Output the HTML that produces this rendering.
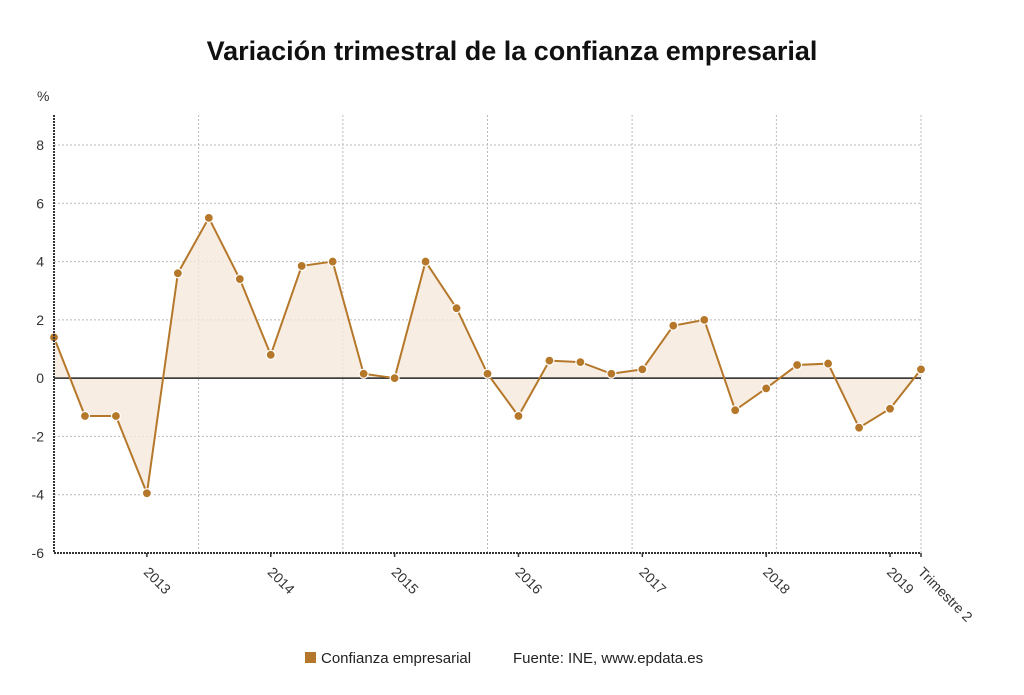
<!DOCTYPE html>
<html><head><meta charset="utf-8"><style>
body{margin:0;background:#fff;width:1024px;height:690px;overflow:hidden;font-family:"Liberation Sans",sans-serif}
</style></head><body>
<svg id="c" width="1024" height="690" style="font-family:'Liberation Sans',sans-serif">
<text x="512" y="60" text-anchor="middle" font-size="27" font-weight="bold" fill="#111">Variación trimestral de la confianza empresarial</text>
<text x="37" y="101" font-size="14" fill="#333">%</text>
<g id="grid"></g><g id="series"></g><g id="axes"></g>
<g>
<rect x="305" y="652" width="11" height="11" fill="#b5782a"/>
<text x="321" y="663" font-size="15" fill="#222">Confianza empresarial</text>
<text x="513" y="663" font-size="15" fill="#222">Fuente: INE, www.epdata.es</text>
</g>
</svg>
<script>
const values=[1.4,-1.3,-1.3,-3.95,3.6,5.5,3.4,0.8,3.85,4.0,0.15,0.0,4.0,2.4,0.15,-1.3,0.6,0.55,0.15,0.3,1.8,2.0,-1.1,-0.35,0.45,0.5,-1.7,-1.05,0.3];
const yTicks=[-6,-4,-2,0,2,4,6,8];
const yearLabels=["2013","2014","2015","2016","2017","2018","2019"];
const yearIndex=[3,7,11,15,19,23,27];
const vGridIndex=[4.67,9.33,14,18.67,23.33,28];
const NS="http://www.w3.org/2000/svg";
const x0=54,x1=921,yTop=145,yBot=553;
const xs=i=>x0+(x1-x0)*i/(values.length-1);
const ys=v=>yBot-(v-(-6))/(14)*(yBot-yTop);
function mk(t,a,p){const e=document.createElementNS(NS,t);for(const k in a)e.setAttribute(k,a[k]);p.appendChild(e);return e;}
const grid=document.getElementById('grid'),ser=document.getElementById('series'),ax=document.getElementById('axes');
yTicks.forEach(t=>{
 if(t!==-6&&t!==0){const l=mk('line',{x1:x0,x2:x1,y1:ys(t),y2:ys(t),stroke:'#bbb','stroke-dasharray':'2,2'},grid);
 
 }
 const tx=mk('text',{x:44,y:ys(t)+5,'text-anchor':'end','font-size':14,fill:'#333'},ax);tx.textContent=t;
 
 
});
vGridIndex.forEach(i=>{const l=mk('line',{x1:xs(i),x2:xs(i),y1:115,y2:yBot,stroke:'#bbb','stroke-dasharray':'2,2'},grid);
 
 });
const y0=ys(0);
let d='M'+xs(0)+','+y0;values.forEach((v,i)=>d+=' L'+xs(i)+','+ys(v));d+=' L'+xs(values.length-1)+','+y0+' Z';
const area=mk('path',{d:d,fill:'#f6e9dc',opacity:0.8},ser);


const zl=mk('line',{x1:x0,x2:x1,y1:y0,y2:y0,stroke:'#222','stroke-width':1.5},ser);


const ln=mk('polyline',{points:values.map((v,i)=>xs(i)+','+ys(v)).join(' '),fill:'none',stroke:'#b5782a','stroke-width':2},ser);


values.forEach((v,i)=>{const c=mk('circle',{cx:xs(i),cy:ys(v),r:4.5,fill:'#b5782a',stroke:'#fff','stroke-width':1.2},ser);
 
 });
const ya=mk('line',{x1:x0,x2:x0,y1:115,y2:yBot,stroke:'#333','stroke-width':2,'stroke-dasharray':'2,1'},ax);


const xa=mk('line',{x1:x0,x2:x1,y1:yBot,y2:yBot,stroke:'#333','stroke-width':2,'stroke-dasharray':'2,1'},ax);


const labs=yearLabels.concat(["Trimestre 2"]),idx=yearIndex.concat([28]);
labs.forEach((s,k)=>{const x=xs(idx[k]);
 const tk=mk('line',{x1:x,x2:x,y1:yBot,y2:yBot+4,stroke:'#333','stroke-width':1.5},ax);
 
 
 const t=mk('text',{x:x-4,y:yBot+20,'font-size':14,fill:'#333',transform:'rotate(45 '+(x-4)+' '+(yBot+20)+')'},ax);t.textContent=s;
 
 
});
</script>
</body></html>
